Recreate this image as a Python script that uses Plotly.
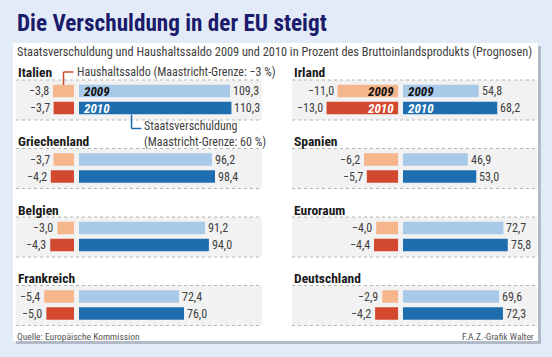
import plotly.graph_objects as go

# ---------------- data ----------------
countries = ["Italien", "Griechenland", "Belgien", "Frankreich",
             "Irland", "Spanien", "Euroraum", "Deutschland"]
saldo_2009 = [-3.8, -3.7, -3.0, -5.4, -11.0, -6.2, -4.0, -2.9]
saldo_2010 = [-3.7, -4.2, -4.3, -5.0, -13.0, -5.7, -4.4, -4.2]
debt_2009 = [109.3, 96.2, 91.2, 72.4, 54.8, 46.9, 72.7, 69.6]
debt_2010 = [110.3, 98.4, 94.0, 76.0, 68.2, 53.0, 75.8, 72.3]
years = ["2009", "2010"]

title = "Die Verschuldung in der EU steigt"
subtitle = ("Staatsverschuldung und Haushaltssaldo 2009 und 2010 in Prozent des "
            "Bruttoinlandsprodukts (Prognosen)")
source = "Quelle: Europäische Kommission"
credit = "F.A.Z.-Grafik Walter"
note_saldo = "Haushaltssaldo (Maastricht-Grenze: \u22123 %)"
note_debt = "Staatsverschuldung<br>(Maastricht-Grenze: 60 %)"

# ---------------- style ----------------
W, H = 552, 357
FONT = "Liberation Sans Narrow, Roboto Condensed, Arial Narrow, sans-serif"
C_BG = "#e3ebf8"
C_TITLE = "#1b1b6b"
C_TEXT = "#404040"
C_PEACH = "#f5b68b"
C_RED = "#d2492f"
C_LBLUE = "#a9c9e8"
C_DBLUE = "#1d6daf"

def px_x(v):
    return v / W

def px_y(v):
    return 1 - v / H

def fmt(v):
    s = f"{abs(v):.1f}".replace(".", ",")
    return ("\u2212" + s) if v < 0 else s

# geometry (pixels)
s_def, s_debt = 5.52, 1.382
zero_def = [74.0, 398.3]
zero_debt = [79.0, 403.0]
R_def = [10.0, 13.5]
R_debt = [125.0, 95.0]
band_x = [(16, 262), (292, 537)]
label_x = [16, 292]
top0, step, ph = 82.5, 68.5, 34.0
yidx = [0, 1]  # row index of 2009 / 2010 inside each panel

fig = go.Figure()
layout = dict(
    width=W, height=H, autosize=False,
    margin=dict(l=0, r=0, t=0, b=0, pad=0),
    paper_bgcolor=C_BG, plot_bgcolor="rgba(0,0,0,0)",
    showlegend=False, barmode="overlay",
    font=dict(family=FONT, color=C_TEXT, size=12),
)
# x axes: 1 = left saldo, 2 = left debt, 3 = right saldo, 4 = right debt
xs = {}
for col in range(2):
    a_def, a_debt = 2 * col + 1, 2 * col + 2
    xs[(col, "def")] = "x" if a_def == 1 else f"x{a_def}"
    xs[(col, "debt")] = f"x{a_debt}"
    layout["xaxis" if a_def == 1 else f"xaxis{a_def}"] = dict(
        domain=[px_x(zero_def[col] - R_def[col] * s_def), px_x(zero_def[col])],
        range=[-R_def[col], 0], visible=False, anchor="y", fixedrange=True)
    layout[f"xaxis{a_debt}"] = dict(
        domain=[px_x(zero_debt[col]), px_x(zero_debt[col] + R_debt[col] * s_debt)],
        range=[0, R_debt[col]], visible=False, anchor="y", fixedrange=True)
# y axes: one per row (rows are aligned across both columns)
ys = []
for row in range(4):
    T = top0 + step * row
    key = "yaxis" if row == 0 else f"yaxis{row + 1}"
    ys.append("y" if row == 0 else f"y{row + 1}")
    layout[key] = dict(domain=[px_y(T + ph), px_y(T)], range=[1.5, -0.5],
                       visible=False, anchor="x", fixedrange=True)

shapes = []
annotations = []

# panel with shadow
shapes.append(dict(type="rect", xref="paper", yref="paper", layer="below",
                   x0=px_x(16), x1=px_x(541), y0=px_y(344), y1=px_y(46),
                   fillcolor="#b2bac8", line=dict(width=0)))
shapes.append(dict(type="rect", xref="paper", yref="paper", layer="below",
                   x0=px_x(13), x1=px_x(538), y0=px_y(341), y1=px_y(43),
                   fillcolor="white", line=dict(width=0)))

for k, name in enumerate(countries):
    col, row = k // 4, k % 4
    T = top0 + step * row
    xd_s, xb_s, ya_s = xs[(col, "def")], xs[(col, "debt")], ys[row]

    sal = [saldo_2009[k], saldo_2010[k]]
    deb = [debt_2009[k], debt_2010[k]]
    fig.add_trace(go.Bar(x=sal, y=yidx, orientation="h", xaxis=xd_s, yaxis=ya_s,
                         marker=dict(color=[C_PEACH, C_RED], line=dict(width=0)),
                         width=0.74, hoverinfo="skip", name=f"saldo {name}"))
    fig.add_trace(go.Bar(x=deb, y=yidx, orientation="h", xaxis=xb_s, yaxis=ya_s,
                         marker=dict(color=[C_LBLUE, C_DBLUE], line=dict(width=0)),
                         width=0.74, hoverinfo="skip", name=f"debt {name}"))

    # band + dotted rules
    bx0, bx1 = band_x[col]
    shapes.append(dict(type="rect", xref="paper", yref="paper", layer="below",
                       x0=px_x(bx0), x1=px_x(bx1), y0=px_y(T + ph + 3.5), y1=px_y(T - 2.5),
                       fillcolor="#f2f2f2", line=dict(width=0)))
    for yy in (T - 2.5, T + ph + 3.5):
        shapes.append(dict(type="line", xref="paper", yref="paper", layer="below",
                           x0=px_x(bx0), x1=px_x(bx1), y0=px_y(yy), y1=px_y(yy),
                           line=dict(color="#b4b4b4", width=1, dash="dot")))
    # country label
    annotations.append(dict(xref="paper", yref="paper", x=px_x(label_x[col]),
                            y=px_y(T - 10), xanchor="left", yanchor="middle",
                            text=f"<b>{name}</b>", showarrow=False,
                            font=dict(size=13.5, color="#1a1a1a")))
    # value labels
    for j in range(2):
        annotations.append(dict(xref=xd_s, yref=ya_s, x=sal[j], y=yidx[j],
                                xanchor="right", yanchor="middle", xshift=-2,
                                text=fmt(sal[j]), showarrow=False,
                                font=dict(size=12, color=C_TEXT)))
        annotations.append(dict(xref=xb_s, yref=ya_s, x=deb[j], y=yidx[j],
                                xanchor="left", yanchor="middle", xshift=1,
                                text=fmt(deb[j]), showarrow=False,
                                font=dict(size=12, color=C_TEXT)))
    # year labels inside bars
    if name in ("Italien", "Irland"):
        for j in range(2):
            annotations.append(dict(xref=xb_s, yref=ya_s, x=0, y=yidx[j],
                                    xanchor="left", yanchor="middle", xshift=3,
                                    text=f"<b><i>{years[j]}</i></b>", showarrow=False,
                                    font=dict(size=13, color="#111" if j == 0 else "white")))
    if name == "Irland":
        for j in range(2):
            annotations.append(dict(xref=xd_s, yref=ya_s, x=0, y=yidx[j],
                                    xanchor="right", yanchor="middle", xshift=-2,
                                    text=f"<b><i>{years[j]}</i></b>", showarrow=False,
                                    font=dict(size=13, color="#111" if j == 0 else "white")))
    if name == "Italien":
        # saldo note connector (from middle of 2009 saldo box upward)
        xm = saldo_2009[k] / 2
        shapes.append(dict(type="line", xref=xd_s, yref="paper",
                           x0=xm, x1=xm, y0=px_y(T + 2.5), y1=px_y(72),
                           line=dict(color=C_RED, width=1.5)))
        shapes.append(dict(type="line", xref=xd_s, yref="paper",
                           x0=xm, x1=xm + 10 / s_def, y0=px_y(72), y1=px_y(72),
                           line=dict(color=C_RED, width=1.5)))
        annotations.append(dict(xref="paper", yref="paper", x=px_x(75), y=px_y(72),
                                xanchor="left", yanchor="middle", text=note_saldo,
                                showarrow=False, font=dict(size=12, color=C_TEXT)))
        # debt note connector (down from 2010 debt bar)
        xq = 38.0
        shapes.append(dict(type="line", xref=xb_s, yref="paper",
                           x0=xq, x1=xq, y0=px_y(T + ph - 2), y1=px_y(128.5),
                           line=dict(color=C_DBLUE, width=1.5)))
        shapes.append(dict(type="line", xref=xb_s, yref="paper",
                           x0=xq, x1=xq + 10 / s_debt, y0=px_y(128.5), y1=px_y(128.5),
                           line=dict(color=C_DBLUE, width=1.5)))
        annotations.append(dict(xref="paper", yref="paper", x=px_x(142), y=px_y(134),
                                xanchor="left", yanchor="middle", text=note_debt,
                                align="left", showarrow=False,
                                font=dict(size=12, color=C_TEXT)))

# titles and footer
annotations.append(dict(xref="paper", yref="paper", x=px_x(15), y=px_y(23),
                        xanchor="left", yanchor="middle", text=f"<b>{title}</b>",
                        showarrow=False, font=dict(size=23.2, color=C_TITLE)))
annotations.append(dict(xref="paper", yref="paper", x=px_x(15), y=px_y(52),
                        xanchor="left", yanchor="middle", text=subtitle,
                        showarrow=False, font=dict(size=12.3, color=C_TEXT)))
annotations.append(dict(xref="paper", yref="paper", x=px_x(15), y=px_y(336),
                        xanchor="left", yanchor="middle", text=source,
                        showarrow=False, font=dict(size=9.5, color="#555")))
annotations.append(dict(xref="paper", yref="paper", x=px_x(536), y=px_y(336),
                        xanchor="right", yanchor="middle", text=credit,
                        showarrow=False, font=dict(size=9.5, color="#555")))

layout["shapes"] = shapes
layout["annotations"] = annotations
fig.update_layout(**layout)
fig.write_html("out.html", config=dict(displayModeBar=False, staticPlot=True),
               post_script="document.body.style.margin='0';"
                           "document.body.style.padding='0';")
